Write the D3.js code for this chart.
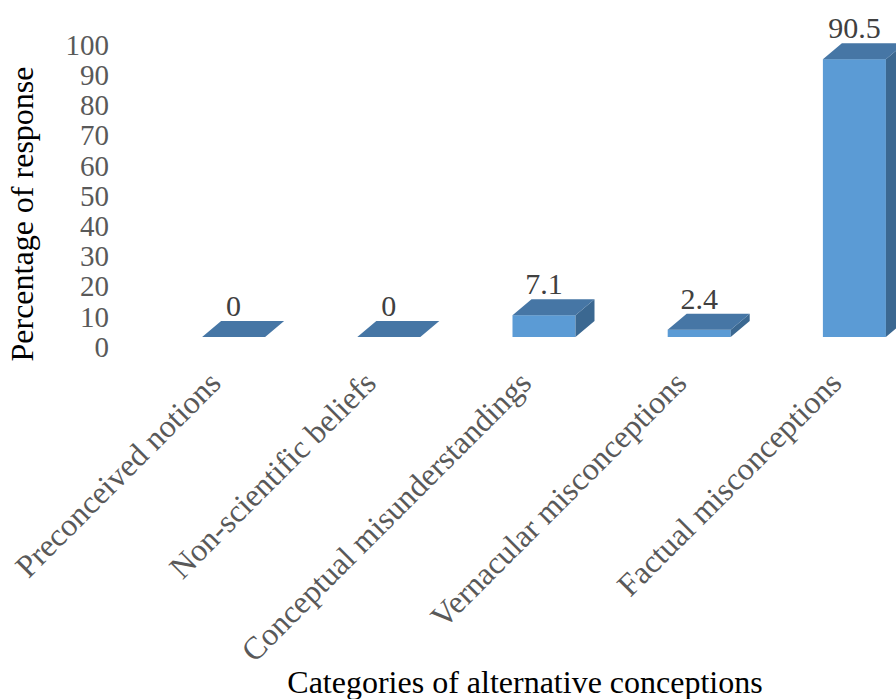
<!DOCTYPE html>
<html>
<head>
<meta charset="utf-8">
<script src="https://cdn.jsdelivr.net/npm/d3@7"></script>
<style>
  body { margin: 0; background: #fff; }
  svg { display: block; }
  text { font-family: "Liberation Serif", "Times New Roman", serif; }
</style>
</head>
<body>
<svg id="chart" width="896" height="699"></svg>
<script>
// chart data
const categories = [
    "Preconceived notions",
    "Non-scientific beliefs",
    "Conceptual misunderstandings",
    "Vernacular misconceptions",
    "Factual misconceptions"
];
const values = [0, 0, 7.1, 2.4, 90.5];
const valueLabels = ["0", "0", "7.1", "2.4", "90.5"];
const tickValues = [0, 10, 20, 30, 40, 50, 60, 70, 80, 90, 100];

const svg = d3.select("#chart");

// depth of the 3d boxes
const depthX = 19, depthY = 16;

const x = d3.scaleBand()
    .domain(categories)
    .range([156, 932])
    .paddingInner(0.594)
    .paddingOuter(0.297);

// bars sit on the front floor line
const y = d3.scaleLinear()
    .domain([0, 100])
    .range([337, 30]);

// tick labels are placed on the back wall in the original
const yTicks = d3.scaleLinear()
    .domain([0, 100])
    .range([347, 45]);

const axis = d3.axisLeft(yTicks)
    .tickValues(tickValues)
    .tickSize(0)
    .tickPadding(0);

const yAxis = svg.append("g")
    .attr("transform", "translate(109,0)")
    .call(axis);
yAxis.select(".domain").remove();
yAxis.selectAll("text")
    .attr("font-size", 29)
    .attr("fill", "#595959");

const data = categories.map((c, i) => ({ name: c, value: values[i], label: valueLabels[i] }));

const bars = svg.append("g")
    .selectAll("g")
    .data(data)
    .enter()
    .append("g");

// front face
bars.filter(d => d.value > 0)
    .append("rect")
    .attr("x", d => x(d.name))
    .attr("y", d => y(d.value))
    .attr("width", x.bandwidth())
    .attr("height", d => y(0) - y(d.value))
    .attr("fill", "#5b9bd5");

// side face
bars.filter(d => d.value > 0)
    .append("path")
    .attr("d", d => {
        const x1 = x(d.name) + x.bandwidth();
        const t = y(d.value), b = y(0);
        return `M${x1},${t}L${x1 + depthX},${t - depthY}L${x1 + depthX},${b - depthY}L${x1},${b}Z`;
    })
    .attr("fill", "#3b6891");

// top face
bars.append("path")
    .attr("d", d => {
        const x0 = x(d.name), x1 = x0 + x.bandwidth();
        const t = y(d.value);
        return `M${x0},${t}L${x1},${t}L${x1 + depthX},${t - depthY}L${x0 + depthX},${t - depthY}Z`;
    })
    .attr("fill", "#4676a5");

// value labels
bars.append("text")
    .attr("x", d => x(d.name) + x.bandwidth() / 2)
    .attr("y", d => y(d.value) - depthY - 5)
    .attr("text-anchor", "middle")
    .attr("font-size", 30)
    .attr("fill", "#404040")
    .text(d => d.label);

// category labels, rotated
svg.append("g")
    .selectAll("text")
    .data(categories)
    .enter()
    .append("text")
    .attr("transform", d => `translate(${x(d) + x.bandwidth() / 2 - 11},385) rotate(-45)`)
    .attr("text-anchor", "end")
    .attr("font-size", 32)
    .attr("fill", "#595959")
    .text(d => d);

// axis titles
svg.append("text")
    .attr("transform", "translate(33,214) rotate(-90)")
    .attr("text-anchor", "middle")
    .attr("font-size", 32)
    .attr("fill", "#000")
    .text("Percentage of response");

svg.append("text")
    .attr("x", 525)
    .attr("y", 693)
    .attr("text-anchor", "middle")
    .attr("font-size", 32)
    .attr("fill", "#000")
    .text("Categories of alternative conceptions");
</script>
</body>
</html>
